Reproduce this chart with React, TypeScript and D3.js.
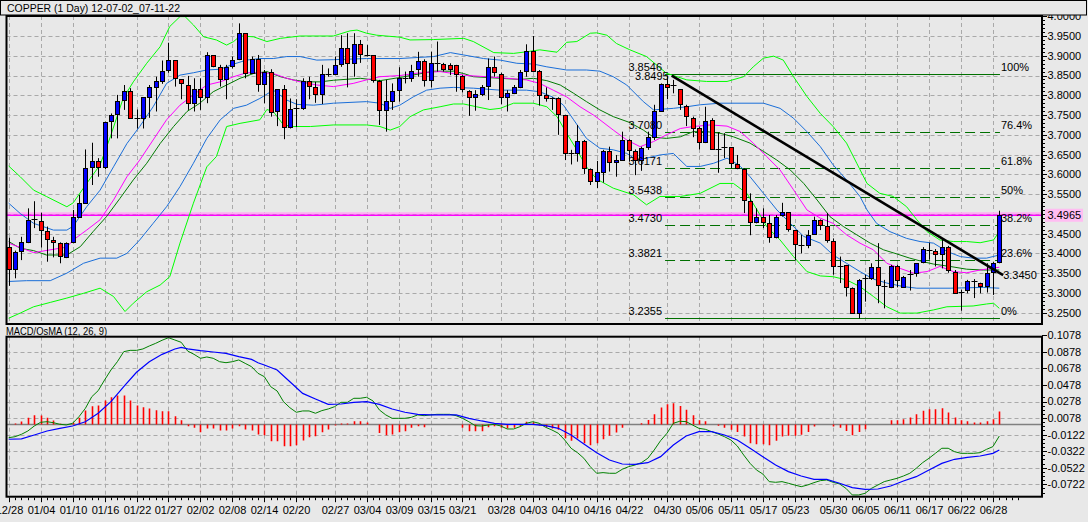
import * as d3 from 'd3'

// daily copper bars, 12/28 .. 06/29 (index 0..155)
const open = [
  3.415, 3.360, 3.405, 3.430, 3.486, 3.483, 3.457, 3.434, 3.426, 3.392,
  3.428, 3.493, 3.528, 3.618, 3.635, 3.618, 3.736, 3.752, 3.788, 3.810,
  3.743, 3.743, 3.796, 3.822, 3.837, 3.864, 3.889, 3.840, 3.827, 3.780,
  3.815, 3.795, 3.901, 3.872, 3.840, 3.875, 3.893, 3.957, 3.857, 3.892,
  3.829, 3.860, 3.759, 3.815, 3.719, 3.767, 3.769, 3.836, 3.820, 3.803,
  3.855, 3.855, 3.879, 3.919, 3.881, 3.929, 3.903, 3.901, 3.835, 3.763,
  3.786, 3.813, 3.845, 3.845, 3.866, 3.888, 3.839, 3.882, 3.878, 3.877,
  3.877, 3.850, 3.812, 3.795, 3.803, 3.824, 3.871, 3.855, 3.795, 3.807,
  3.822, 3.861, 3.911, 3.861, 3.800, 3.792, 3.792, 3.749, 3.655, 3.653,
  3.685, 3.613, 3.582, 3.607, 3.658, 3.630, 3.636, 3.687, 3.659, 3.636,
  3.668, 3.694, 3.760, 3.828, 3.826, 3.815, 3.774, 3.743, 3.716, 3.681,
  3.738, 3.665, 3.668, 3.668, 3.625, 3.613, 3.533, 3.479, 3.491, 3.476,
  3.441, 3.496, 3.504, 3.459, 3.421, 3.421, 3.449, 3.485, 3.469, 3.432,
  3.368, 3.371, 3.312, 3.250, 3.337, 3.337, 3.365, 3.318, 3.314, 3.367,
  3.316, 3.348, 3.351, 3.377, 3.409, 3.405, 3.399, 3.417, 3.354, 3.302,
  3.308, 3.331, 3.325, 3.318, 3.354, 3.379,
]
const high = [
  3.440, 3.407, 3.442, 3.514, 3.532, 3.503, 3.468, 3.442, 3.428, 3.428,
  3.510, 3.548, 3.663, 3.680, 3.641, 3.733, 3.754, 3.801, 3.826, 3.818,
  3.764, 3.795, 3.826, 3.847, 3.888, 3.933, 3.889, 3.840, 3.849, 3.843,
  3.843, 3.909, 3.901, 3.877, 3.877, 3.898, 3.982, 3.957, 3.898, 3.902,
  3.864, 3.866, 3.815, 3.826, 3.792, 3.790, 3.843, 3.847, 3.834, 3.877,
  3.868, 3.898, 3.952, 3.957, 3.957, 3.940, 3.927, 3.901, 3.839, 3.839,
  3.830, 3.871, 3.860, 3.877, 3.910, 3.891, 3.910, 3.936, 3.882, 3.881,
  3.877, 3.851, 3.813, 3.813, 3.826, 3.893, 3.898, 3.857, 3.813, 3.826,
  3.864, 3.929, 3.950, 3.864, 3.820, 3.795, 3.795, 3.749, 3.662, 3.725,
  3.687, 3.615, 3.634, 3.662, 3.670, 3.649, 3.708, 3.689, 3.663, 3.670,
  3.708, 3.776, 3.830, 3.8495, 3.839, 3.815, 3.776, 3.746, 3.721, 3.771,
  3.742, 3.706, 3.704, 3.668, 3.649, 3.615, 3.552, 3.514, 3.514, 3.497,
  3.497, 3.528, 3.504, 3.459, 3.447, 3.459, 3.493, 3.486, 3.502, 3.438,
  3.392, 3.371, 3.314, 3.335, 3.346, 3.375, 3.426, 3.333, 3.371, 3.371,
  3.343, 3.358, 3.375, 3.416, 3.427, 3.411, 3.434, 3.419, 3.358, 3.308,
  3.333, 3.335, 3.326, 3.375, 3.378, 3.508,
]
const low = [
  3.318, 3.337, 3.383, 3.426, 3.464, 3.415, 3.379, 3.390, 3.375, 3.388,
  3.426, 3.491, 3.525, 3.573, 3.594, 3.613, 3.691, 3.691, 3.763, 3.740,
  3.716, 3.716, 3.743, 3.759, 3.829, 3.857, 3.822, 3.790, 3.763, 3.759,
  3.763, 3.780, 3.871, 3.822, 3.790, 3.868, 3.889, 3.843, 3.854, 3.809,
  3.780, 3.746, 3.722, 3.689, 3.716, 3.719, 3.763, 3.790, 3.781, 3.778,
  3.847, 3.854, 3.872, 3.820, 3.847, 3.882, 3.898, 3.832, 3.725, 3.708,
  3.763, 3.784, 3.830, 3.834, 3.847, 3.822, 3.820, 3.860, 3.860, 3.851,
  3.809, 3.807, 3.748, 3.761, 3.798, 3.788, 3.847, 3.777, 3.759, 3.803,
  3.818, 3.847, 3.859, 3.774, 3.784, 3.763, 3.700, 3.636, 3.625, 3.632,
  3.601, 3.573, 3.565, 3.579, 3.607, 3.594, 3.635, 3.632, 3.598, 3.609,
  3.662, 3.687, 3.759, 3.790, 3.805, 3.763, 3.722, 3.694, 3.663, 3.679,
  3.662, 3.604, 3.641, 3.615, 3.613, 3.502, 3.446, 3.476, 3.464, 3.427,
  3.438, 3.493, 3.455, 3.382, 3.400, 3.413, 3.447, 3.459, 3.427, 3.346,
  3.325, 3.291, 3.249, 3.2355, 3.278, 3.333, 3.274, 3.261, 3.312, 3.314,
  3.314, 3.306, 3.341, 3.375, 3.384, 3.367, 3.362, 3.351, 3.299, 3.255,
  3.299, 3.287, 3.299, 3.301, 3.295, 3.375,
]
const close = [
  3.360, 3.403, 3.428, 3.484, 3.486, 3.459, 3.436, 3.428, 3.394, 3.426,
  3.491, 3.527, 3.615, 3.635, 3.618, 3.733, 3.749, 3.786, 3.810, 3.743,
  3.743, 3.795, 3.820, 3.836, 3.862, 3.889, 3.843, 3.830, 3.780, 3.815,
  3.795, 3.901, 3.875, 3.840, 3.872, 3.890, 3.957, 3.857, 3.892, 3.829,
  3.860, 3.758, 3.815, 3.719, 3.766, 3.767, 3.836, 3.824, 3.803, 3.855,
  3.856, 3.877, 3.919, 3.881, 3.929, 3.904, 3.904, 3.839, 3.763, 3.785,
  3.812, 3.845, 3.845, 3.862, 3.888, 3.839, 3.882, 3.881, 3.867, 3.867,
  3.854, 3.815, 3.795, 3.803, 3.820, 3.871, 3.859, 3.795, 3.805, 3.820,
  3.858, 3.911, 3.862, 3.802, 3.792, 3.792, 3.752, 3.653, 3.654, 3.685,
  3.615, 3.582, 3.605, 3.658, 3.631, 3.636, 3.687, 3.662, 3.636, 3.666,
  3.694, 3.760, 3.828, 3.820, 3.826, 3.778, 3.748, 3.716, 3.681, 3.736,
  3.664, 3.665, 3.668, 3.628, 3.615, 3.534, 3.479, 3.491, 3.479, 3.441,
  3.493, 3.504, 3.461, 3.423, 3.421, 3.446, 3.485, 3.472, 3.433, 3.368,
  3.368, 3.314, 3.250, 3.333, 3.337, 3.365, 3.320, 3.318, 3.368, 3.333,
  3.341, 3.348, 3.375, 3.410, 3.409, 3.399, 3.417, 3.358, 3.299, 3.302,
  3.329, 3.331, 3.318, 3.351, 3.375, 3.4965,
]

// bands: [bar, price]
const upperOuter: [number, number][] = [
  [0, 3.621], [1.8, 3.594], [3.9, 3.56], [5.9, 3.544], [9.1, 3.518], [10.1, 3.528], [12.2, 3.577], [14.3, 3.624],
  [15.9, 3.695], [17.9, 3.792], [19.5, 3.834], [21.6, 3.881], [23.7, 3.923], [25.2, 3.974], [26.8, 3.999], [27.6, 3.999],
  [28.9, 3.978], [30.5, 3.948], [32.5, 3.94], [34.1, 3.927], [35.2, 3.936], [36.2, 3.95], [38.3, 3.948], [40.4, 3.936],
  [42.5, 3.944], [45.6, 3.95], [48.7, 3.95], [50.8, 3.95], [53.4, 3.963], [54.5, 3.965], [56, 3.957], [57.6, 3.952],
  [61.2, 3.947], [62.8, 3.94], [66.5, 3.941], [71.2, 3.944], [72.7, 3.936], [75.9, 3.908], [79, 3.906], [81, 3.91],
  [83.1, 3.915], [85.8, 3.909], [87.3, 3.934], [88.9, 3.936], [91, 3.957], [92, 3.958], [93.6, 3.952], [95.1, 3.931],
  [97.2, 3.915], [99.8, 3.898], [102.9, 3.856], [106.1, 3.839], [109.2, 3.835], [112.4, 3.835], [115, 3.847], [116.5, 3.872],
  [118.1, 3.894], [119.7, 3.899], [121.2, 3.889], [122.8, 3.847], [124.9, 3.797], [127, 3.754], [129, 3.721], [131.1, 3.679],
  [132.7, 3.628], [134.3, 3.577], [136.3, 3.552], [138.4, 3.544], [140.5, 3.518], [142.1, 3.485], [143.7, 3.455], [145.7, 3.434],
  [147.8, 3.43], [149.9, 3.43], [152, 3.427], [154.1, 3.434], [155, 3.455],
]
const upperInner: [number, number][] = [
  [0, 3.527], [1.8, 3.501], [3.9, 3.476], [7, 3.459], [9.1, 3.459], [10.1, 3.469], [12.2, 3.518], [14.3, 3.56],
  [16.4, 3.619], [18.5, 3.678], [20.5, 3.721], [22.6, 3.771], [24.7, 3.83], [26.8, 3.851], [28.9, 3.857], [31, 3.864],
  [33.1, 3.866], [35.2, 3.879], [37.2, 3.889], [39.3, 3.893], [41.4, 3.893], [43.5, 3.898], [45.6, 3.898], [48.2, 3.889],
  [50.8, 3.89], [56, 3.893], [61.2, 3.893], [66.5, 3.898], [69.1, 3.908], [71.2, 3.902], [74.3, 3.893], [76.9, 3.889],
  [79.5, 3.881], [82.1, 3.879], [84.2, 3.872], [87.3, 3.864], [90.4, 3.864], [92.5, 3.861], [94.6, 3.847], [96.7, 3.826],
  [99.3, 3.784], [100.9, 3.763], [102.4, 3.765], [104, 3.767], [106.1, 3.771], [108.2, 3.776], [111.3, 3.78], [118.1, 3.78],
  [120.7, 3.767], [122.8, 3.742], [124.9, 3.708], [127, 3.67], [129, 3.624], [131.1, 3.586], [133.2, 3.544], [134.3, 3.51],
  [135.8, 3.476], [137.9, 3.455], [140.5, 3.438], [142.6, 3.43], [144.7, 3.426], [146.8, 3.405], [148.9, 3.392], [150.9, 3.388],
  [153, 3.388], [155, 3.396],
]
const middle: [number, number][] = [
  [0, 3.43], [1.8, 3.413], [3.9, 3.407], [5.9, 3.396], [9.1, 3.396], [11.2, 3.417], [13.2, 3.455], [15.3, 3.493],
  [17.4, 3.539], [19.5, 3.586], [21.6, 3.628], [23.7, 3.678], [25.8, 3.721], [27.9, 3.759], [29.9, 3.78], [32, 3.809],
  [34.1, 3.826], [36.2, 3.843], [38.3, 3.855], [40.4, 3.86], [42.5, 3.847], [44.5, 3.839], [46.6, 3.834], [48.7, 3.834],
  [50.8, 3.838], [55, 3.843], [58.1, 3.837], [61.2, 3.845], [66.5, 3.861], [69.6, 3.861], [71.2, 3.855], [72.7, 3.847],
  [76.9, 3.843], [80, 3.84], [82.1, 3.843], [84.2, 3.837], [86.3, 3.826], [88.4, 3.805], [90.4, 3.784], [92.5, 3.763],
  [94.6, 3.746], [97.2, 3.731], [99.3, 3.712], [100.9, 3.694], [102.9, 3.691], [105.1, 3.695], [107.1, 3.708], [109.2, 3.708],
  [111.3, 3.704], [113.4, 3.695], [116, 3.679], [118.1, 3.658], [120.2, 3.636], [122.3, 3.611], [124.4, 3.577], [126.5, 3.535],
  [128.5, 3.493], [130.6, 3.468], [132.7, 3.447], [134.8, 3.426], [136.9, 3.409], [138.9, 3.399], [141, 3.388], [143.1, 3.379],
  [144.7, 3.373], [147.3, 3.367], [149.9, 3.36], [152.5, 3.358], [155, 3.358],
]
const fastMa: [number, number][] = [
  [0, 3.426], [3.9, 3.402], [9.1, 3.416], [10.1, 3.434], [12.2, 3.459], [14.3, 3.485], [16.4, 3.535], [18.5, 3.594],
  [20.5, 3.636], [22.6, 3.687], [24.7, 3.738], [26.8, 3.775], [28.9, 3.801], [31, 3.826], [33.1, 3.834], [35.2, 3.847],
  [37.2, 3.857], [39.3, 3.857], [41.4, 3.855], [43.5, 3.843], [45.6, 3.834], [48.2, 3.826], [50.8, 3.822], [53.9, 3.83],
  [56, 3.839], [58.1, 3.847], [61.2, 3.85], [64.4, 3.857], [67.5, 3.86], [69.6, 3.855], [71.7, 3.85], [74.8, 3.847],
  [78, 3.843], [81, 3.839], [83.1, 3.83], [85.2, 3.813], [87.3, 3.796], [89.4, 3.771], [91.5, 3.75], [92.5, 3.738],
  [94.6, 3.712], [96.7, 3.687], [98.8, 3.67], [100.9, 3.683], [102.9, 3.7], [105.1, 3.716], [107.1, 3.721], [109.8, 3.725],
  [112.4, 3.722], [114.5, 3.708], [116.5, 3.679], [118.6, 3.645], [120.7, 3.611], [122.8, 3.561], [124.9, 3.51], [127, 3.489],
  [129, 3.476], [131.1, 3.447], [133.2, 3.426], [135.3, 3.409], [137.4, 3.375], [139.5, 3.362], [141.6, 3.35], [143.7, 3.354],
  [145.7, 3.367], [147.8, 3.354], [149.9, 3.351], [152, 3.358], [155, 3.365],
]
const lowerInner: [number, number][] = [
  [0, 3.329], [2.8, 3.331], [6.5, 3.331], [9.1, 3.35], [11.7, 3.375], [14.3, 3.388], [16.9, 3.388], [18.5, 3.4],
  [20.5, 3.434], [22.6, 3.476], [24.7, 3.518], [26.8, 3.569], [28.9, 3.628], [31, 3.691], [33.1, 3.738], [35.2, 3.767],
  [37.2, 3.775], [39.3, 3.792], [41.4, 3.813], [43.5, 3.788], [45.1, 3.777], [47.7, 3.775], [50.8, 3.78], [56, 3.784],
  [58.1, 3.78], [59.7, 3.767], [61.2, 3.775], [63.3, 3.796], [65.4, 3.813], [67.5, 3.818], [69.6, 3.82], [72.7, 3.818],
  [76.9, 3.813], [81, 3.813], [83.1, 3.809], [85.2, 3.795], [86.8, 3.775], [88.4, 3.738], [90.4, 3.691], [92.5, 3.666],
  [94.6, 3.662], [96.7, 3.653], [98.3, 3.636], [99.8, 3.641], [101.9, 3.649], [104, 3.653], [106.1, 3.62], [108.2, 3.62],
  [110.3, 3.628], [112.4, 3.641], [113.4, 3.632], [114.5, 3.62], [116, 3.594], [118.1, 3.552], [120.2, 3.51], [122.3, 3.476],
  [124.4, 3.443], [127, 3.426], [129, 3.396], [131.1, 3.375], [133.2, 3.354], [135.3, 3.335], [137.4, 3.325], [140, 3.316],
  [142.1, 3.312], [147.3, 3.312], [152.5, 3.314], [155, 3.312],
]
const lowerOuter: [number, number][] = [
  [0, 3.236], [1.8, 3.249], [3.9, 3.265], [6.5, 3.276], [9.1, 3.287], [11.7, 3.299], [14.3, 3.312], [16.4, 3.291],
  [18.2, 3.253], [19.5, 3.274], [21.6, 3.303], [23.7, 3.32], [25.2, 3.341], [26.8, 3.426], [28.9, 3.527], [31, 3.619],
  [32.5, 3.645], [34.1, 3.721], [36.2, 3.729], [39.3, 3.738], [40.4, 3.764], [41.4, 3.759], [43, 3.725], [44.5, 3.721],
  [47.2, 3.721], [50.8, 3.725], [56, 3.725], [58.1, 3.721], [59.7, 3.712], [61.2, 3.721], [62.8, 3.746], [64.9, 3.763],
  [67.5, 3.771], [69.6, 3.778], [71.2, 3.778], [73.2, 3.771], [75.3, 3.764], [76.9, 3.767], [79, 3.78], [82.1, 3.78],
  [84.2, 3.771], [85.8, 3.746], [87.3, 3.704], [88.9, 3.662], [90.4, 3.619], [92, 3.588], [94.6, 3.565], [97.8, 3.548],
  [99.8, 3.523], [101.9, 3.544], [105.1, 3.544], [108.2, 3.552], [111.3, 3.577], [113.4, 3.577], [115.5, 3.552], [117.1, 3.51],
  [118.6, 3.468], [120.7, 3.434], [122.8, 3.392], [124.9, 3.354], [127, 3.343], [129, 3.341], [131.1, 3.333], [133.2, 3.316],
  [135.3, 3.291], [137.4, 3.265], [139.5, 3.249], [142.1, 3.249], [144.7, 3.257], [146.8, 3.265], [150.9, 3.267], [153, 3.272],
  [154.1, 3.274], [155, 3.261],
]

// MACD (12,26,9): main line per bar, signal as [bar, value], OsMA per bar
const macdMain = [
  -0.0159, -0.0147, -0.0118, -0.0078, -0.0018, 0.0027, 0.0034, 0.0022, 0.0003, -0.0005,
  0.0015, 0.0095, 0.0196, 0.0336, 0.0409, 0.0538, 0.0659, 0.0759, 0.088, 0.0896,
  0.0896, 0.0913, 0.0949, 0.0981, 0.1018, 0.1049, 0.1021, 0.0993, 0.0888, 0.0848,
  0.08, 0.0816, 0.08, 0.0759, 0.0747, 0.0759, 0.078, 0.0739, 0.0699, 0.0619,
  0.0578, 0.0457, 0.0405, 0.0276, 0.0203, 0.0148, 0.0164, 0.0164, 0.0136, 0.0168,
  0.0188, 0.0216, 0.0268, 0.0268, 0.0317, 0.0317, 0.0329, 0.0285, 0.0176, 0.0116,
  0.0075, 0.0075, 0.0075, 0.0087, 0.0116, 0.0107, 0.0116, 0.0123, 0.0123, 0.0123,
  0.0107, 0.0075, 0.0034, -0.0014, -0.0018, -0.0006, 0.0002, -0.0018, -0.0054, -0.0054,
  -0.0026, 0.0015, 0.0034, 0.0015, -0.0033, -0.0066, -0.0106, -0.0187, -0.0287, -0.034,
  -0.0408, -0.0509, -0.0589, -0.0581, -0.0589, -0.0589, -0.0541, -0.0509, -0.0489, -0.0461,
  -0.0408, -0.0308, -0.0195, -0.0106, 0.0015, 0.0039, 0.0035, -0.0006, -0.0046, -0.0058,
  -0.0086, -0.0114, -0.0147, -0.0187, -0.0259, -0.0368, -0.0469, -0.0549, -0.0598, -0.069,
  -0.0698, -0.069, -0.071, -0.0731, -0.0751, -0.0731, -0.0702, -0.0678, -0.067, -0.0698,
  -0.0718, -0.0771, -0.0851, -0.0851, -0.0831, -0.0771, -0.0731, -0.069, -0.067, -0.065,
  -0.0622, -0.0589, -0.0529, -0.0461, -0.0408, -0.0348, -0.0287, -0.0287, -0.0328, -0.0348,
  -0.0348, -0.0348, -0.034, -0.03, -0.0267, -0.0139,
]
const macdSignal: [number, number][] = [
  [0, -0.0178], [2, -0.0174], [4, -0.0126], [6, -0.0078], [8, -0.0046], [10, -0.0018], [12, 0.0034], [14, 0.0136],
  [16, 0.0276], [18, 0.0457], [20, 0.0631], [22, 0.0759], [24, 0.0848], [26, 0.0913], [27, 0.0933], [28, 0.0913],
  [30, 0.0892], [32, 0.0876], [34, 0.086], [36, 0.082], [38, 0.0787], [39, 0.0747], [40, 0.0719], [42, 0.0659],
  [44, 0.0517], [46, 0.0376], [48, 0.0308], [50, 0.0244], [52, 0.0248], [54, 0.0268], [56, 0.0276], [58, 0.0244],
  [60, 0.0188], [62, 0.0148], [64, 0.0123], [66, 0.0116], [68, 0.0116], [70, 0.0116], [72, 0.0075], [74, 0.0043],
  [76, 0.0015], [78, 0.0002], [80, 0.0002], [82, 0.0002], [84, -0.0014], [86, -0.0046], [88, -0.0126], [90, -0.0235],
  [92, -0.034], [94, -0.0428], [96, -0.0477], [98, -0.0481], [100, -0.0461], [102, -0.0388], [104, -0.0247], [106, -0.0139],
  [108, -0.0086], [110, -0.0086], [112, -0.0126], [114, -0.0187], [116, -0.0287], [118, -0.0388], [120, -0.0489], [122, -0.0569],
  [124, -0.0622], [126, -0.0662], [128, -0.0662], [130, -0.071], [132, -0.0763], [134, -0.0783], [136, -0.0779], [138, -0.0743],
  [140, -0.0682], [142, -0.063], [144, -0.0549], [146, -0.0469], [148, -0.042], [150, -0.0396], [152, -0.038], [154, -0.0348],
  [155, -0.0308],
]
const osma = [
  0, 0.0012, 0.0036, 0.0081, 0.0113, 0.0109, 0.0081, 0.0048, 0.0008, 0,
  0.002, 0.0081, 0.0169, 0.0221, 0.023, 0.029, 0.033, 0.035, 0.035, 0.029,
  0.023, 0.0209, 0.0193, 0.0173, 0.0161, 0.0161, 0.0101, 0.0052, -0.002, -0.004,
  -0.0093, -0.0048, -0.0048, -0.0072, -0.0072, -0.0048, -0.002, -0.006, -0.0072, -0.0121,
  -0.0129, -0.0201, -0.0201, -0.0262, -0.0262, -0.025, -0.0193, -0.0153, -0.0141, -0.0093,
  -0.006, -0.0012, 0.0012, 0.0012, 0.004, 0.004, 0.0024, 0, -0.0101, -0.0129,
  -0.0121, -0.0093, -0.0081, -0.004, -0.002, -0.0032, 0, 0, 0, 0,
  0, -0.004, -0.0081, -0.0081, -0.0081, -0.0032, -0.002, -0.004, -0.0048, -0.004,
  -0.002, 0.0032, 0.0028, -0.0012, -0.0032, -0.0048, -0.0064, -0.0165, -0.0197, -0.0169,
  -0.0225, -0.025, -0.0225, -0.0177, -0.0137, -0.0097, -0.004, 0, 0, 0.0016,
  0.0056, 0.0125, 0.0205, 0.0246, 0.0258, 0.0225, 0.0177, 0.0113, 0.0052, 0.004,
  0, -0.0016, -0.004, -0.0064, -0.0089, -0.0145, -0.0225, -0.0238, -0.0238, -0.025,
  -0.0197, -0.0145, -0.0137, -0.0137, -0.0125, -0.0089, -0.0024, 0, 0, -0.0024,
  -0.004, -0.0077, -0.0129, -0.0089, -0.0056, 0, 0, 0, 0.0052, 0.0052,
  0.0064, 0.0085, 0.0125, 0.0165, 0.0185, 0.0185, 0.0197, 0.0145, 0.0085, 0.0052,
  0.004, 0.0024, 0.0024, 0.004, 0.0064, 0.0157,
]

// fibonacci retracement 3.2355 .. 3.8546
const fibPrices = [3.8546, 3.708, 3.6171, 3.5438, 3.473, 3.3821, 3.2355]
const fibLabels = ['100%', '76.4%', '61.8%', '50%', '38.2%', '23.6%', '0%']
const fibBars = [102.7, 155.1]

// trend line from the 3.8495 high
const trendBars = [103.74, 155.6]
const trendPrices = [3.8495, 3.345]
const lastPrice = 3.4965

const priceTicks = [3.25, 3.3, 3.35, 3.4, 3.45, 3.5, 3.55, 3.6, 3.65, 3.7, 3.75, 3.8, 3.85, 3.9, 3.95, 4.0]
const macdTicks = [0.1078, 0.0878, 0.0678, 0.0478, 0.0278, 0.0078, -0.0122, -0.0322, -0.0522, -0.0722]
const dateBars = [0, 5, 10, 15, 20, 25, 30, 35, 40, 45, 51, 56, 61, 66, 71, 77, 82, 87, 92, 97, 103, 108, 113, 118, 123, 129, 134, 139, 144, 149, 154]
const dateLabels = ['12/28', '01/04', '01/10', '01/16', '01/22', '01/27', '02/02', '02/08', '02/14', '02/20', '02/27', '03/04', '03/09', '03/15', '03/21', '03/28', '04/03', '04/10', '04/16', '04/22', '04/30', '05/06', '05/11', '05/17', '05/23', '05/30', '06/05', '06/11', '06/17', '06/22', '06/28']

const BG = '#e8e8e8'
const GRID = '#a9a9a9'
const FONT = '"Liberation Sans", Arial, sans-serif'

export default function App() {
  const W = 1088
  const H = 522
  const left = 6.5
  const right = 1042
  const mainTop = 16
  const mainBottom = 324
  const macdTop = 336.7
  const macdBottom = 496.7

  const x = d3.scaleLinear().domain([0, 155]).range([8.7, 999.3])
  const y = d3.scaleLinear().domain([3.2214, 4.0006]).range([mainBottom, mainTop])
  const ym = d3.scaleLinear().domain([-0.0872, 0.1061]).range([macdBottom, macdTop])
  const cx = (i: number) => Math.round(x(i)) + 0.5

  const band = d3.line<[number, number]>().x((d) => x(d[0])).y((d) => y(d[1]))
  const macdLine = d3.line<[number, number]>().x((d) => x(d[0])).y((d) => ym(d[1]))
  const mainPts: [number, number][] = macdMain.map((v, i) => [i, v])

  const minorPrice = d3.range(325, 401).map((k) => k / 100)
  const minorMacd = d3.range(-17, 22).map((k) => -0.0922 + k * 0.005 + 0.02).filter((v) => v > -0.087 && v < 0.108)

  return (
    <svg width={W} height={H} style={{ position: 'absolute', left: 0, top: 0, display: 'block' }} fontFamily={FONT}>
      <defs>
        <clipPath id="mainClip"><rect x={left} y={mainTop} width={right - left} height={mainBottom - mainTop} /></clipPath>
        <clipPath id="macdClip"><rect x={left} y={macdTop} width={right - left} height={macdBottom - macdTop} /></clipPath>
      </defs>
      <rect width={W} height={H} fill={BG} />

      {/* main panel grid */}
      <g stroke={GRID} strokeDasharray="4,3" strokeWidth={1} clipPath="url(#mainClip)">
        {priceTicks.map((p) => (
          <line key={p} x1={left} x2={right} y1={Math.round(y(p)) + 0.5} y2={Math.round(y(p)) + 0.5} />
        ))}
        {dateBars.map((b) => (
          <line key={b} x1={cx(b)} x2={cx(b)} y1={mainTop} y2={mainBottom} />
        ))}
      </g>

      <g clipPath="url(#mainClip)">
        {/* last price line */}
        <line x1={left} x2={right} y1={y(lastPrice) - 2} y2={y(lastPrice) - 2} stroke="#ffb0f4" strokeWidth={2} />
        <line x1={left} x2={right} y1={y(lastPrice)} y2={y(lastPrice)} stroke="#ff00ff" strokeWidth={1.4} />

        {/* fibonacci */}
        {fibPrices.map((p, k) => (
          <line
            key={p}
            x1={x(fibBars[0])}
            x2={x(fibBars[1])}
            y1={Math.round(y(p)) + 0.5}
            y2={Math.round(y(p)) + 0.5}
            stroke="#007000"
            strokeWidth={1.2}
            strokeDasharray={k === 0 || k === fibPrices.length - 1 ? undefined : '10,5'}
          />
        ))}

        {/* bands and averages */}
        <path d={band(upperOuter) ?? ''} fill="none" stroke="#00ff00" strokeWidth={1} />
        <path d={band(lowerOuter) ?? ''} fill="none" stroke="#00ff00" strokeWidth={1} />
        <path d={band(upperInner) ?? ''} fill="none" stroke="#1a6ed8" strokeWidth={1} />
        <path d={band(lowerInner) ?? ''} fill="none" stroke="#1a6ed8" strokeWidth={1} />
        <path d={band(middle) ?? ''} fill="none" stroke="#007a00" strokeWidth={1} />
        <path d={band(fastMa) ?? ''} fill="none" stroke="#ff00ff" strokeWidth={1} />

        {/* candles */}
        {open.map((o, i) => {
          const c = close[i]
          const px = cx(i)
          const doji = Math.abs(o - c) < 0.0015
          const top = y(Math.max(o, c))
          const bot = y(Math.min(o, c))
          return (
            <g key={i}>
              <line x1={px} x2={px} y1={y(high[i])} y2={y(low[i])} stroke="#000" strokeWidth={1} />
              {doji ? (
                <line x1={px - 3} x2={px + 3} y1={Math.round(y(o)) + 0.5} y2={Math.round(y(o)) + 0.5} stroke="#000" strokeWidth={1} />
              ) : (
                <rect
                  x={px - 2}
                  y={Math.round(top) + 0.5}
                  width={4}
                  height={Math.max(1, Math.round(bot) - Math.round(top))}
                  fill={c > o ? '#0000ff' : '#ff0000'}
                  stroke="#000"
                  strokeWidth={1}
                />
              )}
            </g>
          )
        })}

        {/* trend line */}
        <line
          x1={x(trendBars[0])}
          y1={y(trendPrices[0])}
          x2={x(trendBars[1])}
          y2={y(trendPrices[1])}
          stroke="#000"
          strokeWidth={2.6}
        />
      </g>

      {/* fib + trend labels */}
      <g fontSize={11} fill="#000">
        {fibPrices.map((p, k) => (
          <g key={p}>
            <text x={x(fibBars[0]) - 3} y={y(p) - 3} textAnchor="end">{p.toFixed(4)}</text>
            <text x={x(fibBars[1]) + 1} y={y(p) - 3}>{fibLabels[k]}</text>
          </g>
        ))}
        <text x={x(trendBars[0]) - 3} y={y(trendPrices[0]) + 4} textAnchor="end">{trendPrices[0].toFixed(4)}</text>
        <text x={x(trendBars[1])} y={y(trendPrices[1]) + 4}>{trendPrices[1].toFixed(4)}</text>
      </g>

      {/* main frame + axis */}
      <rect x={left} y={mainTop} width={right - left} height={mainBottom - mainTop} fill="none" stroke="#000" strokeWidth={2} />
      <g stroke="#000" strokeWidth={1}>
        {minorPrice.map((p) => (
          <line key={p} x1={right} x2={right + (Math.round(p * 100) % 5 === 0 ? 5 : 3)} y1={Math.round(y(p)) + 0.5} y2={Math.round(y(p)) + 0.5} />
        ))}
      </g>
      <g fontSize={11} fill="#000">
        {priceTicks.map((p) => (
          <text key={p} x={1047.5} y={y(p)} dy="0.36em">{p.toFixed(4)}</text>
        ))}
      </g>
      <rect x={1045} y={y(lastPrice) - 6.5} width={38} height={13} fill="#ffbdf2" />
      <text x={1047.5} y={y(lastPrice)} dy="0.36em" fontSize={11} fill="#000">{lastPrice.toFixed(4)}</text>

      {/* title */}
      <rect x={0.5} y={0.5} width={1086} height={14.5} fill={BG} stroke="#000" strokeWidth={1} />
      <text x={7} y={12} fontSize={11} textLength={173} lengthAdjust="spacingAndGlyphs">COPPER (1 Day) 12-07-02_07-11-22</text>

      {/* MACD panel */}
      <text x={6} y={334.5} fontSize={11} textLength={101} lengthAdjust="spacingAndGlyphs">MACD/OsMA (12, 26, 9)</text>
      <g stroke={GRID} strokeDasharray="4,3" strokeWidth={1} clipPath="url(#macdClip)">
        {macdTicks.map((v) => (
          <line key={v} x1={left} x2={right} y1={Math.round(ym(v)) + 0.5} y2={Math.round(ym(v)) + 0.5} />
        ))}
        {dateBars.map((b) => (
          <line key={b} x1={cx(b)} x2={cx(b)} y1={macdTop} y2={macdBottom} />
        ))}
      </g>
      <g clipPath="url(#macdClip)">
        <line x1={left} x2={right} y1={ym(0)} y2={ym(0)} stroke="#808080" strokeWidth={1.6} />
        {osma.map((v, i) =>
          v === 0 ? null : (
            <line key={i} x1={cx(i)} x2={cx(i)} y1={ym(0)} y2={ym(v)} stroke="#ff0000" strokeWidth={1.6} />
          )
        )}
        <path d={macdLine(mainPts) ?? ''} fill="none" stroke="#008000" strokeWidth={1} />
        <path d={macdLine(macdSignal) ?? ''} fill="none" stroke="#0000ff" strokeWidth={1.2} />
      </g>
      <rect x={left} y={macdTop} width={right - left} height={macdBottom - macdTop} fill="none" stroke="#000" strokeWidth={2} />
      <g stroke="#000" strokeWidth={1}>
        {minorMacd.map((v) => (
          <line key={v} x1={right} x2={right + 3} y1={Math.round(ym(v)) + 0.5} y2={Math.round(ym(v)) + 0.5} />
        ))}
        {macdTicks.map((v) => (
          <line key={v} x1={right} x2={right + 5} y1={Math.round(ym(v)) + 0.5} y2={Math.round(ym(v)) + 0.5} />
        ))}
      </g>
      <g fontSize={11} fill="#000">
        {macdTicks.map((v) => (
          <text key={v} x={1047.5} y={ym(v)} dy="0.36em">{v.toFixed(4)}</text>
        ))}
      </g>

      {/* time axis */}
      <g stroke="#000" strokeWidth={1}>
        {d3.range(0, 159).map((i) => (
          <line key={i} x1={cx(i)} x2={cx(i)} y1={macdBottom + 1} y2={macdBottom + 3.5} />
        ))}
        {dateBars.map((b) => (
          <line key={b} x1={cx(b)} x2={cx(b)} y1={macdBottom + 1} y2={macdBottom + 5.5} />
        ))}
      </g>
      <g fontSize={11} fill="#000" textAnchor="middle">
        {dateBars.map((b, k) => (
          <text key={b} x={cx(b)} y={514}>{dateLabels[k]}</text>
        ))}
      </g>
    </svg>
  )
}
